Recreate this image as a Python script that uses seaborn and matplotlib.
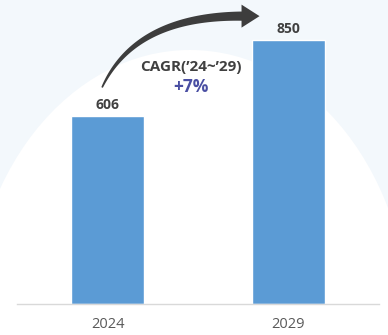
import numpy as np
import pandas as pd
import seaborn as sns
import matplotlib.pyplot as plt
from matplotlib.patches import Polygon, Ellipse

#### data
years = ["2024", "2029"]
values = [606, 850]
cagr_label = "CAGR(\u201924~\u201929)"
cagr_value = "+7%"

bar_color = "#5b9bd5"
text_dark = "#404040"
tick_gray = "#595959"
cagr_color = "#4a4fa3"

sns.set_theme(style="white")
plt.rcParams['font.family'] = ['Open Sans', 'DejaVu Sans']

fig = plt.figure(figsize=(3.88, 3.35), dpi=100)
fig.patch.set_facecolor("#f3f8fc")

# faint background swoosh
bg = fig.add_axes([0, 0, 1, 1], zorder=-1)
bg.set_xlim(0, 388)
bg.set_ylim(335, 0)
bg.axis("off")
bg.add_patch(Ellipse((190, 330), 440, 560, color="white", lw=0))

ax = fig.add_axes([17 / 388, 31 / 335, 362 / 388, 304 / 335])
ax.patch.set_alpha(0)

df = pd.DataFrame({"year": years, "value": values})
sns.barplot(data=df, x="year", y="value", color=bar_color, width=0.4,
            saturation=1, ax=ax)

ax.set_xlim(-0.5, 1.5)
ax.set_ylim(0, 980)
ax.set_xlabel("")
ax.set_ylabel("")
ax.set_yticks([])
for s in ["top", "left", "right"]:
    ax.spines[s].set_visible(False)
ax.spines["bottom"].set_color("#d9d9d9")
ax.spines["bottom"].set_linewidth(1)
ax.tick_params(axis="x", length=0, pad=9, labelsize=10.5, labelcolor=tick_gray)

# value labels
for i, v in enumerate(values):
    ax.annotate(str(v), (i, v), xytext=(0, 3), textcoords="offset points",
                ha="center", va="bottom", fontsize=10, fontweight="bold",
                color=text_dark)

# curved tapered arrow (display coords)
fig.canvas.draw()
p0 = ax.transData.transform((-0.03, values[0] + 92))
p2 = ax.transData.transform((0.84, values[1] + 78))
p2 = np.array(p2)
head_len = 18
tail_end = p2 - np.array([head_len, 0])
# control point: start going up steeply, end horizontal
a = np.deg2rad(65)
s = (tail_end[1] - p0[1]) / np.sin(a)
p1 = np.array([p0[0] + s * np.cos(a), tail_end[1]])
t = np.linspace(0, 1, 60)[:, None]
pts = (1 - t) ** 2 * p0 + 2 * (1 - t) * t * p1 + t ** 2 * tail_end
d = 2 * (1 - t) * (p1 - p0) + 2 * t * (tail_end - p1)
d = d / np.linalg.norm(d, axis=1)[:, None]
nrm = np.column_stack([-d[:, 1], d[:, 0]])
w = (0.8 + 3.8 * t[:, 0] ** 0.8)[:, None]
left = pts + nrm * w
right = pts - nrm * w
head = [tail_end + np.array([0, 11.5]), p2, tail_end - np.array([0, 11.5])]
poly = np.vstack([left, head, right[::-1]])
fig.patches.append(Polygon(poly, closed=True, transform=None,
                           facecolor="#3d3d3d", edgecolor="none", figure=fig))

# CAGR text
ax.text(0.46, 764, cagr_label, ha="center", va="center", fontsize=11,
        fontweight="bold", color=text_dark)
ax.text(0.46, 699, cagr_value, ha="center", va="center", fontsize=12.5,
        fontweight="bold", color=cagr_color)

fig.savefig("out.png", dpi=100, facecolor=fig.get_facecolor())
